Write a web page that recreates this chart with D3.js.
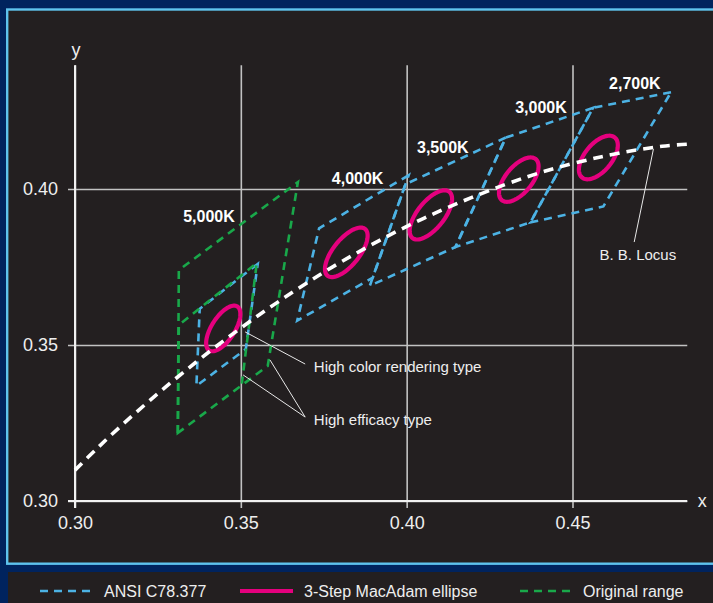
<!DOCTYPE html>
<html>
<head>
<meta charset="utf-8">
<script src="https://cdn.jsdelivr.net/npm/d3@7"></script>
<style>
  html, body { margin: 0; padding: 0; background: #00235e; }
  svg { display: block; }
  text { font-family: "Liberation Sans", Arial, Helvetica, sans-serif; }
</style>
</head>
<body>
<svg id="chart" width="713" height="603"></svg>
<script>
// ---- Axis ticks ----
const xTicks = [0.30, 0.35, 0.40, 0.45];
const yTicks = [0.30, 0.35, 0.40];

// ---- Black-body locus (CIE 1931 x, y) ----
const locusX = [0.3000, 0.3064, 0.3135, 0.3221, 0.3324, 0.3451, 0.3608, 0.3805, 0.4053, 0.4369, 0.4599, 0.4770, 0.4852];
const locusY = [0.3099, 0.3166, 0.3237, 0.3318, 0.3410, 0.3516, 0.3635, 0.3768, 0.3907, 0.4041, 0.4106, 0.4137, 0.4144];

// ---- Nominal CCTs and 3-step MacAdam ellipses ----
const cctLabels    = ["5,000K", "4,000K", "3,500K", "3,000K", "2,700K"];
const ellipseCx    = [0.3447, 0.3818, 0.4073, 0.4338, 0.4578];
const ellipseCy    = [0.3553, 0.3797, 0.3917, 0.4030, 0.4101];
const ellipseA     = [0.00822, 0.00939, 0.00927, 0.00834, 0.00810];
const ellipseB     = [0.00354, 0.00402, 0.00414, 0.00408, 0.00420];
const ellipseAngle = [59.62, 53.72, 54.00, 53.22, 53.70];

// ---- ANSI C78.377 quadrangles (corner x, y) ----
const ansi5000 = [[0.3551, 0.3760], [0.3376, 0.3616], [0.3366, 0.3369], [0.3515, 0.3487]];
const ansi4000 = [[0.4006, 0.4044], [0.3736, 0.3874], [0.3670, 0.3578], [0.3898, 0.3716]];
const ansi3500 = [[0.4299, 0.4165], [0.3996, 0.4015], [0.3889, 0.3690], [0.4147, 0.3814]];
const ansi3000 = [[0.4562, 0.4260], [0.4299, 0.4165], [0.4147, 0.3814], [0.4373, 0.3893]];
const ansi2700 = [[0.4797, 0.4310], [0.4562, 0.4260], [0.4373, 0.3893], [0.4593, 0.3944]];

// ---- Original 5,000K ranges ----
// Wide range: closed quadrangle starting at the lower-left corner.
const originalWide   = [[0.3310, 0.3218], [0.3313, 0.3740], [0.3672, 0.4022], [0.3581, 0.3433]];
// Narrow range: shares the left and lower edges of the wide one.
const originalNarrow = [[0.3310, 0.3218], [0.3313, 0.3564], [0.3548, 0.3763], [0.3503, 0.3376]];

const legendLabels = ["ANSI C78.377", "3-Step MacAdam ellipse", "Original range"];

// ---- Colours ----
const C = {
  page: "#00235e", panel: "#231f20", frame: "#5ec3ee",
  ansi: "#4cb2e4", ellipse: "#e5007e", original: "#19a84a",
  locus: "#ffffff", grid: "#c2c2c2", axis: "#f2f2f2", text: "#eeeeee"
};

const svg = d3.select("#chart");

// Panel and legend strip
svg.append("rect").attr("x", 7.2).attr("y", 9.5).attr("width", 720).attr("height", 554.2)
  .attr("fill", C.panel).attr("stroke", C.frame).attr("stroke-width", 2.4);
svg.append("rect").attr("x", 8).attr("y", 572).attr("width", 710).attr("height", 40)
  .attr("fill", C.panel);

// Scales
const x = d3.scaleLinear().domain([0.30, 0.45]).range([75, 572.5]);
const y = d3.scaleLinear().domain([0.30, 0.40]).range([501, 189]);
const xMax = 0.4846, yMax = 0.4397;

// X axis with full-height grid lines
const gx = svg.append("g").attr("transform", `translate(0,${y(0.30)})`)
  .call(d3.axisBottom(x).tickValues(xTicks).tickFormat(d3.format(".2f"))
    .tickSizeInner(0).tickSizeOuter(0).tickPadding(15));
gx.select(".domain").remove();
gx.selectAll(".tick line").attr("y1", 7).attr("y2", y(yMax) - y(0.30))
  .attr("stroke", C.grid).attr("stroke-width", 1.6);
gx.selectAll(".tick text").attr("fill", C.text).attr("font-size", 18)
  .attr("font-family", "Liberation Sans, Arial, sans-serif");

// Y axis with full-width grid lines
const gy = svg.append("g").attr("transform", `translate(${x(0.30)},0)`)
  .call(d3.axisLeft(y).tickValues(yTicks).tickFormat(d3.format(".2f"))
    .tickSizeInner(0).tickSizeOuter(0).tickPadding(17));
gy.select(".domain").remove();
gy.selectAll(".tick line").attr("x1", -7).attr("x2", x(xMax) - x(0.30))
  .attr("stroke", C.grid).attr("stroke-width", 1.6);
gy.selectAll(".tick text").attr("fill", C.text).attr("font-size", 18)
  .attr("font-family", "Liberation Sans, Arial, sans-serif");

// Axis lines
svg.append("line").attr("x1", x(0.30) - 7).attr("x2", x(xMax))
  .attr("y1", y(0.30)).attr("y2", y(0.30)).attr("stroke", C.axis).attr("stroke-width", 2);
svg.append("line").attr("x1", x(0.30)).attr("x2", x(0.30))
  .attr("y1", y(0.30) + 7).attr("y2", y(yMax)).attr("stroke", C.axis).attr("stroke-width", 2);
svg.append("text").attr("x", x(xMax) + 15).attr("y", y(0.30) + 6).attr("text-anchor", "middle")
  .attr("fill", C.text).attr("font-size", 18).text("x");
svg.append("text").attr("x", x(0.30) + 1).attr("y", y(yMax) - 9).attr("text-anchor", "middle")
  .attr("fill", C.text).attr("font-size", 18).text("y");

// Quadrangles
const quad = d3.line().x(d => x(d[0])).y(d => y(d[1])).curve(d3.curveLinearClosed);
const open = d3.line().x(d => x(d[0])).y(d => y(d[1]));
const plot = svg.append("g");
[ansi5000, ansi4000, ansi3500, ansi3000, ansi2700].forEach(q => {
  plot.append("path").attr("d", quad(q)).attr("fill", "none")
    .attr("stroke", C.ansi).attr("stroke-width", 2.6).attr("stroke-dasharray", "8,6");
});
plot.append("path").attr("d", quad(originalWide)).attr("fill", "none")
  .attr("stroke", C.original).attr("stroke-width", 2.6).attr("stroke-dasharray", "8,6");
plot.append("path").attr("d", open(originalNarrow)).attr("fill", "none")
  .attr("stroke", C.original).attr("stroke-width", 2.6).attr("stroke-dasharray", "8,6");

// MacAdam ellipses
cctLabels.forEach((lab, i) => {
  const th = ellipseAngle[i] * Math.PI / 180;
  const pts = d3.range(0, 360, 4).map(deg => {
    const t = deg * Math.PI / 180;
    const ex = ellipseA[i] * Math.cos(t), ey = ellipseB[i] * Math.sin(t);
    return [ellipseCx[i] + ex * Math.cos(th) - ey * Math.sin(th),
            ellipseCy[i] + ex * Math.sin(th) + ey * Math.cos(th)];
  });
  plot.append("path").attr("d", quad(pts)).attr("fill", "none")
    .attr("stroke", C.ellipse).attr("stroke-width", 4.2);
});

// Black-body locus
const locus = d3.line().x(d => x(d[0])).y(d => y(d[1])).curve(d3.curveCatmullRom);
plot.append("path").attr("d", locus(locusX.map((v, i) => [v, locusY[i]])))
  .attr("fill", "none").attr("stroke", C.locus).attr("stroke-width", 3.6)
  .attr("stroke-dasharray", "10,7");

// CCT labels
const cctLabelPos = [[0.3404, 0.3894], [0.3852, 0.4016], [0.4109, 0.4115], [0.4405, 0.4244], [0.4688, 0.4321]];
cctLabels.forEach((lab, i) => {
  svg.append("text").attr("x", x(cctLabelPos[i][0])).attr("y", y(cctLabelPos[i][1]))
    .attr("text-anchor", "middle").attr("fill", "#ffffff").attr("font-weight", "bold")
    .attr("font-size", 16).text(lab);
});

// Annotations with leader lines
const notes = [
  { text: "B. B. Locus", at: [0.4697, 0.3772], anchor: "middle",
    leaders: [[[0.4686, 0.3830], [0.4744, 0.4128]]] },
  { text: "High color rendering type", at: [0.3720, 0.3415], anchor: "start",
    leaders: [[[0.3694, 0.3439], [0.3513, 0.3542]]] },
  { text: "High efficacy type", at: [0.3720, 0.3244], anchor: "start",
    leaders: [[[0.3694, 0.3269], [0.3507, 0.3404]], [[0.3694, 0.3269], [0.3588, 0.3452]]] }
];
notes.forEach(n => {
  n.leaders.forEach(l => {
    svg.append("line").attr("x1", x(l[0][0])).attr("y1", y(l[0][1]))
      .attr("x2", x(l[1][0])).attr("y2", y(l[1][1]))
      .attr("stroke", "#e8e8e8").attr("stroke-width", 1);
  });
  svg.append("text").attr("x", x(n.at[0])).attr("y", y(n.at[1]))
    .attr("text-anchor", n.anchor).attr("fill", C.text).attr("font-size", 15).text(n.text);
});

// Legend
const legendY = 591;
const legend = [
  { x0: 40, color: C.ansi, dash: "8,6", width: 2.6, tx: 104 },
  { x0: 240, color: C.ellipse, dash: null, width: 4.2, tx: 304 },
  { x0: 520, color: C.original, dash: "8,6", width: 2.6, tx: 583 }
];
legend.forEach((l, i) => {
  const ln = svg.append("line").attr("x1", l.x0).attr("x2", l.x0 + 53)
    .attr("y1", legendY).attr("y2", legendY).attr("stroke", l.color).attr("stroke-width", l.width);
  if (l.dash) ln.attr("stroke-dasharray", l.dash);
  svg.append("text").attr("x", l.tx).attr("y", legendY + 6).attr("fill", C.text)
    .attr("font-size", 16).text(legendLabels[i]);
});
</script>
</body>
</html>
